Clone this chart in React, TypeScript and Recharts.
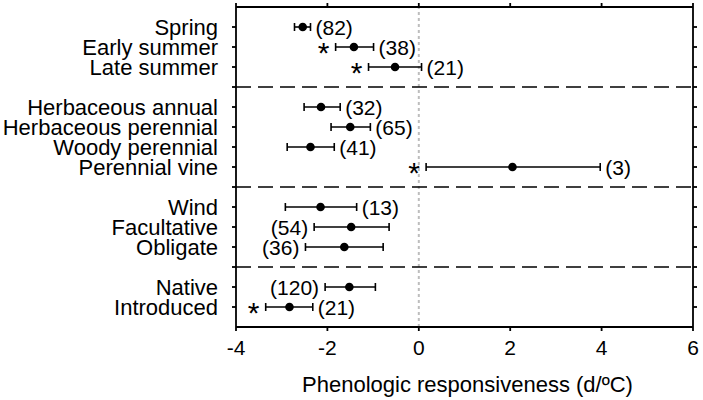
import React from 'react';
import {
  ScatterChart,
  Scatter,
  XAxis,
  YAxis,
  ErrorBar,
  ReferenceLine,
} from 'recharts';

// ---- data ----
const groupNames = ['Season', 'Growth form', 'Pollination', 'Origin'];
const groupSizes = [3, 4, 3, 2];
const categories = [
  'Spring',
  'Early summer',
  'Late summer',
  'Herbaceous annual',
  'Herbaceous perennial',
  'Woody perennial',
  'Perennial vine',
  'Wind',
  'Facultative',
  'Obligate',
  'Native',
  'Introduced',
];
const means = [-2.54, -1.42, -0.52, -2.14, -1.5, -2.37, 2.05, -2.15, -1.48, -1.63, -1.52, -2.83];
const lower = [-2.72, -1.82, -1.1, -2.51, -1.92, -2.88, 0.16, -2.92, -2.29, -2.48, -2.05, -3.35];
const upper = [-2.37, -0.99, 0.06, -1.72, -1.06, -1.85, 3.97, -1.36, -0.65, -0.78, -0.95, -2.32];
const counts = [82, 38, 21, 32, 65, 41, 3, 13, 54, 36, 120, 21];
const labelSide = ['right', 'right', 'right', 'right', 'right', 'right', 'right', 'right', 'left', 'left', 'left', 'right'];
const significant = [false, true, true, false, false, false, true, false, false, false, false, true];
const xTicks = [-4, -2, 0, 2, 4, 6];
const xTitle = 'Phenologic responsiveness (d/ºC)';

// ---- derived rows (category slots, one blank slot between groups) ----
const rowPos: number[] = [];
const separators: number[] = [];
{
  let slot = 0;
  groupSizes.forEach((n, g) => {
    for (let i = 0; i < n; i++) rowPos.push(slot++);
    if (g < groupSizes.length - 1) separators.push(slot++);
  });
}
const totalSlots = rowPos[rowPos.length - 1] + 1;
const yTicks = Array.from({ length: totalSlots }, (_, i) => i);
const labelBySlot: Record<number, string> = {};
rowPos.forEach((p, i) => (labelBySlot[p] = categories[i]));

const points = categories.map((c, i) => ({
  x: means[i],
  y: rowPos[i],
  err: [means[i] - lower[i], upper[i] - means[i]],
}));
const countLabels = categories.map((c, i) => ({
  x: labelSide[i] === 'right' ? upper[i] : lower[i],
  y: rowPos[i],
  text: `(${counts[i]})`,
  side: labelSide[i],
}));
const stars = categories
  .map((c, i) => ({ x: lower[i], y: rowPos[i], sig: significant[i] }))
  .filter((d) => d.sig);

const FONT = '"Liberation Sans", Arial, Helvetica, sans-serif';
const AXIS = { stroke: '#000', strokeWidth: 1.8 };

const Dot = (p: any) => <circle cx={p.cx} cy={p.cy} r={4.3} fill="#000" />;
const CountText = (p: any) => {
  const right = p.payload.side === 'right';
  return (
    <text
      x={p.cx + (right ? 5 : -6)}
      y={p.cy}
      dy="0.36em"
      fontSize={21}
      fontFamily={FONT}
      fill="#000"
      textAnchor={right ? 'start' : 'end'}
    >
      {p.payload.text}
    </text>
  );
};
const Star = (p: any) => (
  <text
    x={p.cx - 12}
    y={p.cy + 16}
    fontSize={30}
    fontFamily={FONT}
    fill="#000"
    textAnchor="middle"
  >
    *
  </text>
);

export default function App() {
  return (
    <div style={{ position: 'absolute', left: 0, top: 0 }}>
      <ScatterChart
        width={703}
        height={400}
        margin={{ top: 0, right: 0, bottom: 0, left: 0 }}
        style={{ fontFamily: FONT }}
      >
        <XAxis
          xAxisId="bottom"
          type="number"
          dataKey="x"
          domain={[-4, 6]}
          ticks={xTicks}
          allowDataOverflow
          height={73}
          tickSize={4}
          tickMargin={9}
          axisLine={AXIS}
          tickLine={AXIS}
          tick={{ fontSize: 21, fill: '#000', fontFamily: FONT }}
          label={{ value: xTitle, position: 'insideBottom', offset: 8, dx: 3, fontSize: 22, fill: '#000', fontFamily: FONT }}
        />
        <XAxis
          xAxisId="top"
          orientation="top"
          type="number"
          dataKey="x"
          domain={[-4, 6]}
          ticks={xTicks}
          allowDataOverflow
          height={7}
          tickSize={4}
          axisLine={AXIS}
          tickLine={AXIS}
          tickFormatter={() => ''}
        />
        <YAxis
          yAxisId="left"
          type="number"
          dataKey="y"
          domain={[-1, totalSlots]}
          reversed
          ticks={yTicks}
          interval={0}
          allowDataOverflow
          width={236}
          tickSize={4}
          tickMargin={14}
          axisLine={AXIS}
          tickLine={AXIS}
          tick={{ fontSize: 22, fill: '#000', fontFamily: FONT }}
          tickFormatter={(v: number) => labelBySlot[v] ?? ''}
        />
        <YAxis
          yAxisId="right"
          orientation="right"
          type="number"
          dataKey="y"
          domain={[-1, totalSlots]}
          reversed
          ticks={yTicks}
          interval={0}
          allowDataOverflow
          width={10}
          tickSize={4}
          axisLine={AXIS}
          tickLine={AXIS}
          tickFormatter={() => ''}
        />
        <ReferenceLine
          xAxisId="bottom"
          yAxisId="left"
          x={0}
          stroke="#bdbdbd"
          strokeWidth={2}
          strokeDasharray="3 3"
        />
        {separators.map((s) => (
          <ReferenceLine
            key={s}
            xAxisId="bottom"
            yAxisId="left"
            y={s}
            stroke="#000"
            strokeWidth={1.6}
            strokeDasharray="15 7"
          />
        ))}
        <Scatter
          xAxisId="bottom"
          yAxisId="left"
          data={points}
          shape={Dot}
          isAnimationActive={false}
        >
          <ErrorBar dataKey="err" direction="x" width={4} stroke="#000" strokeWidth={1.6} />
        </Scatter>
        <Scatter
          xAxisId="bottom"
          yAxisId="left"
          data={countLabels}
          shape={CountText}
          isAnimationActive={false}
        />
        <Scatter
          xAxisId="bottom"
          yAxisId="left"
          data={stars}
          shape={Star}
          isAnimationActive={false}
        />
      </ScatterChart>
    </div>
  );
}
